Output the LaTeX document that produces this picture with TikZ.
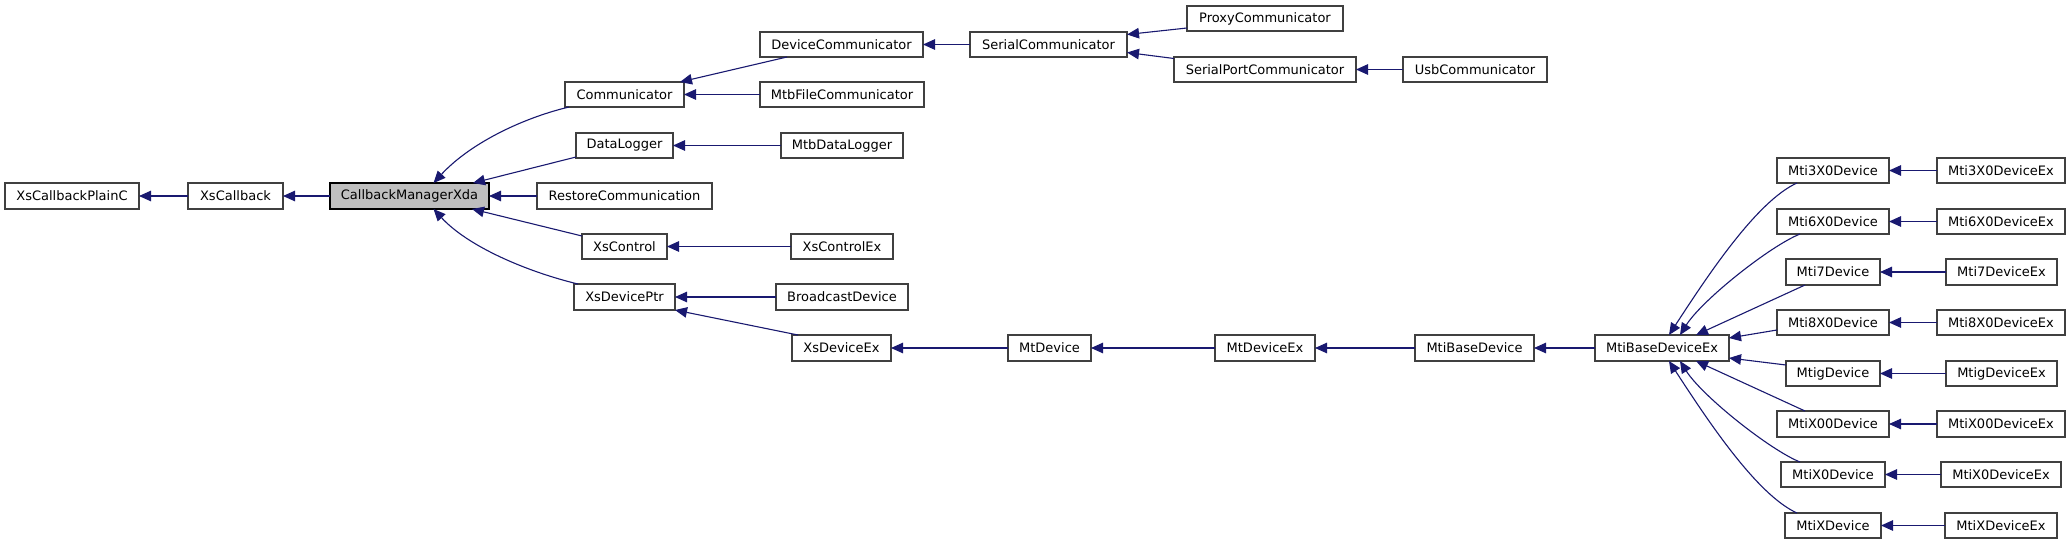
\documentclass[tikz,border=0pt]{standalone}
\usepackage{fontspec}
\setmainfont{DejaVu Sans}
\usetikzlibrary{arrows.meta,calc}
\definecolor{edgecol}{RGB}{25,25,112}
\definecolor{boxline}{RGB}{64,64,64}
\definecolor{rootfill}{RGB}{191,191,191}
\tikzset{
  cls/.style={draw=boxline,line width=1.3pt,fill=white,inner sep=0pt,outer sep=0pt,
    font=\fontsize{13}{15}\selectfont,text=black},
  rootcls/.style={cls,draw=black,fill=rootfill},
  edge/.style={draw=edgecol,line width=1.1pt,-{Triangle[length=12pt,width=10.5pt]}},
}
\newcommand\mkbox[7][cls]{\node[#1,minimum width={(#5-#3)*1pt},minimum height={(#6-#4)*1pt}] (#2) at ({(#3+#5)/2},{(#4+#6)/2}) {#7};}
\begin{document}
\begin{tikzpicture}[x=1pt,y=-1pt]
\useasboundingbox[fill=white] (0,0) rectangle (2071,544);
% nodes
\mkbox{xcpc}{5}{183}{139}{209}{XsCallbackPlainC}
\mkbox{xcb}{188}{183}{283}{209}{XsCallback}
\mkbox[rootcls]{cmx}{330}{183}{489}{209}{CallbackManagerXda}
\mkbox{comm}{565}{82}{684}{107}{Communicator}
\mkbox{dcom}{760}{32}{923}{57}{DeviceCommunicator}
\mkbox{mfc}{760}{82}{924}{107}{MtbFileCommunicator}
\mkbox{scom}{970}{32}{1127}{57}{SerialCommunicator}
\mkbox{pcom}{1187}{6}{1343}{31}{ProxyCommunicator}
\mkbox{spc}{1174}{57}{1356}{82}{SerialPortCommunicator}
\mkbox{usb}{1403}{57}{1547}{82}{UsbCommunicator}
\mkbox{dl}{576}{133}{673}{158}{DataLogger}
\mkbox{mdl}{781}{133}{903}{158}{MtbDataLogger}
\mkbox{rc}{537}{183}{712}{209}{RestoreCommunication}
\mkbox{xc}{582}{234}{667}{259}{XsControl}
\mkbox{xce}{791}{234}{893}{259}{XsControlEx}
\mkbox{xdp}{574}{284}{675}{310}{XsDevicePtr}
\mkbox{bd}{776}{284}{908}{310}{BroadcastDevice}
\mkbox{xde}{792}{335}{891}{361}{XsDeviceEx}
\mkbox{mtd}{1008}{335}{1091}{361}{MtDevice}
\mkbox{mtde}{1215}{335}{1315}{361}{MtDeviceEx}
\mkbox{mbd}{1415}{335}{1534}{361}{MtiBaseDevice}
\mkbox{mbde}{1595}{335}{1729}{361}{MtiBaseDeviceEx}
\mkbox{m3}{1777}{158}{1889}{183}{Mti3X0Device}
\mkbox{m3e}{1937}{158}{2065}{183}{Mti3X0DeviceEx}
\mkbox{m6}{1777}{209}{1889}{234}{Mti6X0Device}
\mkbox{m6e}{1937}{209}{2065}{234}{Mti6X0DeviceEx}
\mkbox{m7}{1786}{259}{1880}{285}{Mti7Device}
\mkbox{m7e}{1946}{259}{2057}{285}{Mti7DeviceEx}
\mkbox{m8}{1777}{310}{1889}{335}{Mti8X0Device}
\mkbox{m8e}{1937}{310}{2065}{335}{Mti8X0DeviceEx}
\mkbox{mg}{1786}{361}{1880}{386}{MtigDevice}
\mkbox{mge}{1946}{361}{2057}{386}{MtigDeviceEx}
\mkbox{mxoo}{1777}{411}{1889}{437}{MtiX00Device}
\mkbox{mxooe}{1937}{411}{2065}{437}{MtiX00DeviceEx}
\mkbox{mxo}{1781}{462}{1885}{487}{MtiX0Device}
\mkbox{mxoe}{1941}{462}{2061}{487}{MtiX0DeviceEx}
\mkbox{mx}{1785}{513}{1881}{538}{MtiXDevice}
\mkbox{mxe}{1945}{513}{2057}{538}{MtiXDeviceEx}
% edges
\draw[edge] (xcb.west) -- (xcpc.east);
\draw[edge] (cmx.west) -- (xcb.east);
\draw[edge] ($(comm.south west)+(4,0)$) .. controls +(-50,12) and +(35,-38) .. ($(cmx.north)+(24,0)$);
\draw[edge] ($(dl.south west)+(0,-1)$) -- ($(cmx.north east)+(-16,0)$);
\draw[edge] (rc.west) -- (cmx.east);
\draw[edge] ($(xc.north west)+(0,2)$) -- ($(cmx.south east)+(-17,0)$);
\draw[edge] ($(xdp.north west)+(4,0)$) .. controls +(-50,-12) and +(35,38) .. ($(cmx.south)+(24,0)$);
\draw[edge] ($(dcom.south west)+(27,0)$) -- ($(comm.north east)+(-4,0)$);
\draw[edge] (mfc.west) -- (comm.east);
\draw[edge] (scom.west) -- (dcom.east);
\draw[edge] ($(pcom.west)+(0,9.5)$) -- ($(scom.east)+(0,-10)$);
\draw[edge] ($(spc.west)+(0,-11)$) -- ($(scom.east)+(0,8)$);
\draw[edge] (usb.west) -- (spc.east);
\draw[edge] (mdl.west) -- (dl.east);
\draw[edge] (xce.west) -- (xc.east);
\draw[edge] (bd.west) -- (xdp.east);
\draw[edge] ($(xde.north west)+(6,0)$) -- (xdp.south east);
\draw[edge] (mtd.west) -- (xde.east);
\draw[edge] (mtde.west) -- (mtd.east);
\draw[edge] (mbd.west) -- (mtde.east);
\draw[edge] (mbde.west) -- (mbd.east);
\draw[edge] ($(m3.south west)+(20,0)$) .. controls +(-40,18) and +(39,-60) .. ($(mbde.north)+(7,0)$);
\draw[edge] ($(m6.south west)+(23,0)$) .. controls +(-30,12) and +(22,-35) .. ($(mbde.north)+(18,0)$);
\draw[edge] ($(m7.south west)+(19,0)$) -- ($(mbde.north)+(34,0)$);
\draw[edge] ($(m8.west)+(0,7.5)$) -- ($(mbde.north east)+(0,3)$);
\draw[edge] ($(mg.west)+(0,-8.5)$) -- ($(mbde.south east)+(0,-3)$);
\draw[edge] ($(mxoo.north west)+(28,0)$) -- ($(mbde.south)+(34,0)$);
\draw[edge] ($(mxo.north west)+(19,0)$) .. controls +(-30,-12) and +(22,35) .. ($(mbde.south)+(18,0)$);
\draw[edge] ($(mx.north west)+(12,0)$) .. controls +(-40,-18) and +(39,60) .. ($(mbde.south)+(7,0)$);
\draw[edge] (m3e.west) -- (m3.east);
\draw[edge] (m6e.west) -- (m6.east);
\draw[edge] (m7e.west) -- (m7.east);
\draw[edge] (m8e.west) -- (m8.east);
\draw[edge] (mge.west) -- (mg.east);
\draw[edge] (mxooe.west) -- (mxoo.east);
\draw[edge] (mxoe.west) -- (mxo.east);
\draw[edge] (mxe.west) -- (mx.east);
\end{tikzpicture}
\end{document}
